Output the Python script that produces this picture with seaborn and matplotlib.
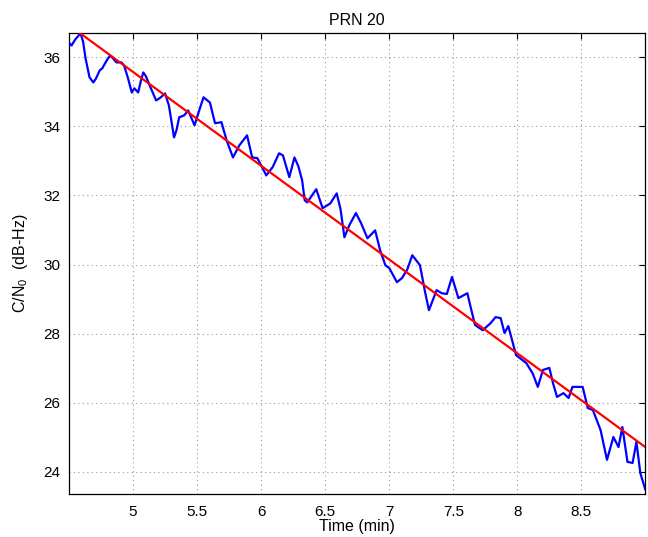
import numpy as np
import pandas as pd
import matplotlib
matplotlib.use("Agg")
import matplotlib.pyplot as plt
import seaborn as sns

time_min = [4.50, 4.52, 4.55, 4.59, 4.61, 4.63, 4.66, 4.69, 4.71, 4.74, 4.76, 4.79, 4.82, 4.84,
            4.87, 4.91, 4.93, 4.96, 4.99, 5.01, 5.04, 5.06, 5.08, 5.10, 5.13, 5.18, 5.21,
            5.25, 5.28, 5.32, 5.34, 5.36, 5.40, 5.43, 5.48, 5.52, 5.55, 5.60, 5.64, 5.69,
            5.73, 5.78, 5.83, 5.89, 5.93, 5.97, 6.01, 6.04, 6.09, 6.14, 6.17, 6.22, 6.26,
            6.29, 6.32, 6.34, 6.36, 6.43, 6.48, 6.54, 6.59, 6.62, 6.65, 6.69, 6.74, 6.78,
            6.83, 6.89, 6.93, 6.97, 7.00, 7.06, 7.10, 7.14, 7.18, 7.24, 7.28, 7.31, 7.37,
            7.41, 7.45, 7.49, 7.54, 7.61, 7.64, 7.67, 7.73, 7.79, 7.83, 7.87, 7.90, 7.93,
            7.96, 7.99, 8.07, 8.12, 8.16, 8.20, 8.25, 8.28, 8.31, 8.36, 8.40, 8.43, 8.51,
            8.55, 8.59, 8.65, 8.70, 8.75, 8.79, 8.82, 8.86, 8.90, 8.93, 8.96, 9.00]
cn0_db = [36.42, 36.34, 36.52, 36.69, 36.45, 35.95, 35.42, 35.27, 35.38, 35.62, 35.68, 35.88, 36.05, 35.98,
          35.85, 35.85, 35.76, 35.40, 34.98, 35.10, 34.98, 35.30, 35.56, 35.45, 35.18, 34.75, 34.82,
          34.95, 34.60, 33.68, 33.90, 34.26, 34.32, 34.46, 34.03, 34.50, 34.84, 34.69, 34.09, 34.12,
          33.60, 33.10, 33.45, 33.74, 33.10, 33.08, 32.80, 32.58, 32.82, 33.22, 33.16, 32.53, 33.10,
          32.85, 32.44, 31.86, 31.80, 32.18, 31.63, 31.77, 32.06, 31.60, 30.79, 31.15, 31.49, 31.20,
          30.76, 30.99, 30.40, 29.98, 29.90, 29.49, 29.61, 29.85, 30.27, 29.98, 29.20, 28.68, 29.26,
          29.17, 29.15, 29.64, 29.03, 29.17, 28.70, 28.25, 28.10, 28.30, 28.48, 28.45, 28.02, 28.22,
          27.80, 27.38, 27.15, 26.85, 26.46, 26.95, 27.01, 26.55, 26.17, 26.28, 26.14, 26.46, 26.46,
          25.85, 25.79, 25.21, 24.35, 25.01, 24.72, 25.30, 24.29, 24.26, 24.87, 23.97, 23.48]

# Linear fit parameters (dB-Hz = intercept + slope * t)
fit_slope = -2.714
fit_intercept = 49.143

x_ticks = [5, 5.5, 6, 6.5, 7, 7.5, 8, 8.5]
x_tick_labels = ["5", "5.5", "6", "6.5", "7", "7.5", "8", "8.5"]
y_ticks = [24, 26, 28, 30, 32, 34, 36]

sns.set_style("white")
plt.rcParams['font.family'] = ['Liberation Sans', 'DejaVu Sans']
plt.rcParams['mathtext.fontset'] = 'custom'
plt.rcParams['mathtext.rm'] = 'Liberation Sans'
plt.rcParams['mathtext.it'] = 'Liberation Sans'
plt.rcParams['text.color'] = 'black'
plt.rcParams['axes.labelcolor'] = 'black'

df = pd.DataFrame({"t": time_min, "cn0": cn0_db})
t_arr = np.array(time_min)
fit_df = pd.DataFrame({"t": [t_arr.min(), t_arr.max()]})
fit_df["fit"] = fit_intercept + fit_slope * fit_df["t"]

fig = plt.figure(figsize=(6.48, 5.37), dpi=100)
ax = fig.add_axes([0.1065, 0.080, 0.8895, 0.8585])

sns.lineplot(data=df, x="t", y="cn0", ax=ax, color="#0000ff", linewidth=1.6, zorder=3)
sns.lineplot(data=fit_df, x="t", y="fit", ax=ax, color="#ff0000", linewidth=1.6, zorder=4)

ax.set_xlim(4.5, 9.0)
ax.set_ylim(23.36, 36.7)
ax.set_xticks(x_ticks)
ax.set_xticklabels(x_tick_labels)
ax.set_yticks(y_ticks)
ax.grid(True, linestyle=(0, (1, 3)), color="#999999", linewidth=0.8)
ax.tick_params(direction="in", length=4, width=0.8, top=True, right=True,
               labelsize=11, colors="black")
ax.tick_params(axis="x", pad=8)
ax.tick_params(axis="y", pad=6)
for s in ax.spines.values():
    s.set_visible(True)
    s.set_color("black")
    s.set_linewidth(0.9)

ax.set_title("PRN 20", fontsize=11.5, pad=6, color="black")
ax.set_xlabel("Time (min)", fontsize=11.5, labelpad=0, color="black")
ax.set_ylabel(r"C/N$_0$  (dB-Hz)", fontsize=11.5, labelpad=10, color="black")

fig.savefig("out.png", dpi=100, facecolor="white")
